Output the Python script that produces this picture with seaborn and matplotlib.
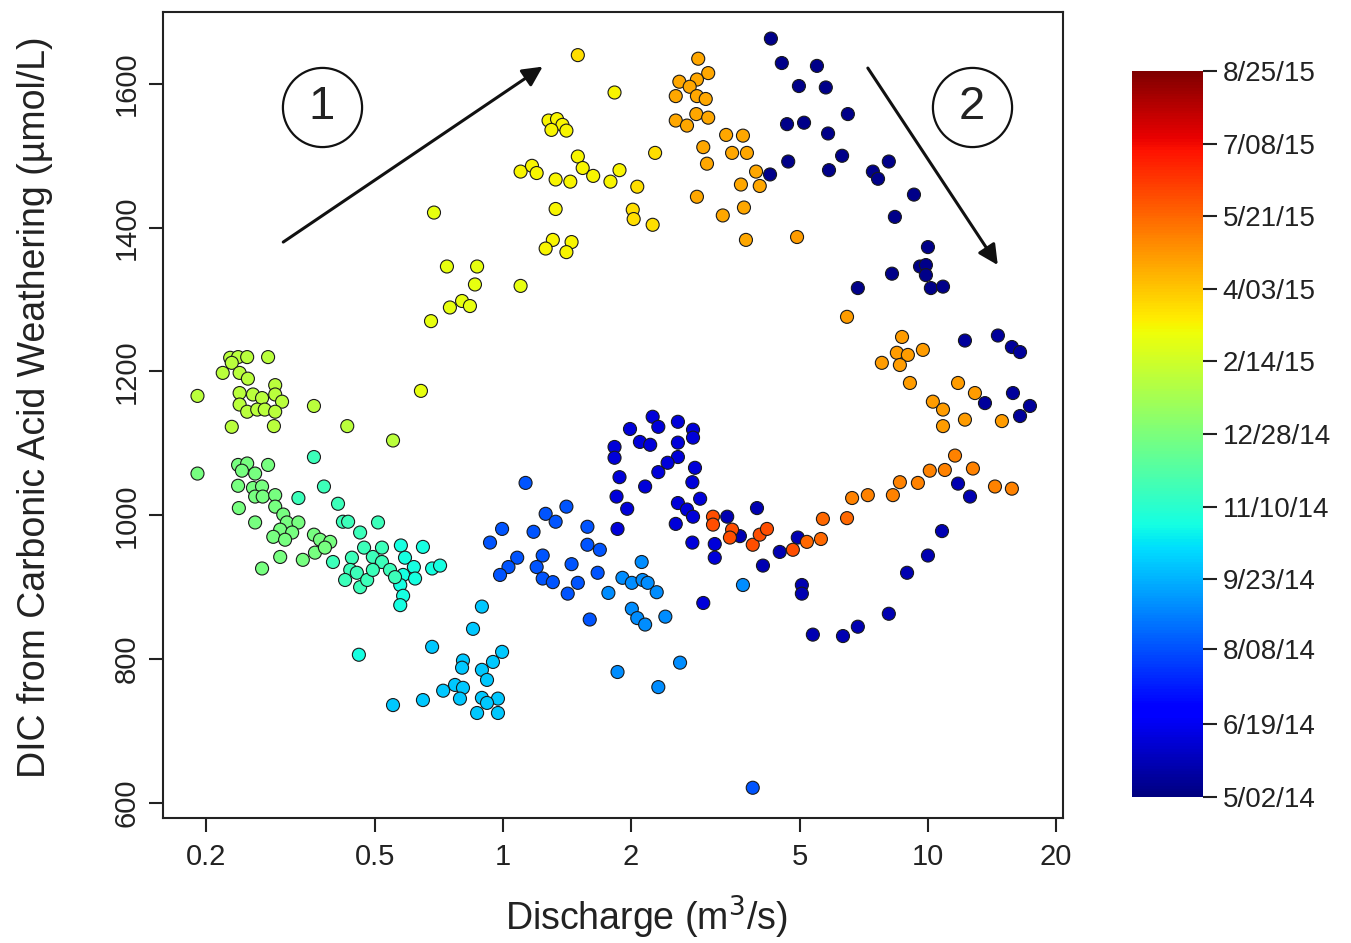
import pandas as pd
import matplotlib
matplotlib.use("Agg")
import matplotlib.pyplot as plt
import matplotlib.colors as mcolors
import seaborn as sns

START = pd.Timestamp("2014-05-02")

# navy, top right (early May 2014)
q_navy_top = [4.27, 4.53, 5.48, 4.97, 5.75, 6.48, 4.66, 5.11, 5.82, 6.28, 4.69, 5.85, 4.25,
              7.42, 7.63, 8.09, 9.27, 8.36, 10.0, 9.58, 9.89, 9.89, 8.23, 6.84, 10.16, 10.85]
dic_navy_top = [1663, 1629, 1625, 1597, 1595, 1558, 1544, 1546, 1531, 1500, 1492, 1480, 1474,
                1478, 1468, 1492, 1446, 1415, 1373, 1346, 1348, 1334, 1336, 1316, 1316, 1318]

q_navy_right = [12.22, 14.61, 15.76, 16.47, 15.85, 13.62, 17.38, 16.47]
dic_navy_right = [1243, 1250, 1234, 1227, 1170, 1156, 1152, 1138]

q_navy_low = [11.77, 12.56, 10.79, 10.0, 8.93, 8.09, 6.84, 6.31, 5.36, 5.05, 5.05, 4.48,
              4.09, 3.96, 4.94, 3.37, 3.61]
dic_navy_low = [1044, 1026, 978, 944, 920, 863, 845, 832, 834, 903, 891, 949,
                930, 1010, 969, 998, 971]

q_blue = [2.25, 2.58, 1.99, 2.32, 2.10, 2.22, 2.80, 2.80, 2.58, 1.83, 1.83, 2.58, 2.44, 2.32,
          2.83, 1.88, 2.16, 2.79, 1.85, 1.96, 2.58, 2.71, 2.91, 2.80, 2.55, 1.86, 2.79, 3.15,
          3.15, 2.96]
dic_blue = [1137, 1130, 1120, 1123, 1102, 1098, 1119, 1108, 1101, 1095, 1080, 1081, 1073, 1060,
            1066, 1053, 1040, 1046, 1026, 1009, 1017, 1008, 1023, 998, 988, 981, 962, 960,
            941, 878]

q_midblue = [1.13, 1.41, 1.26, 1.33, 0.995, 1.18, 0.932, 1.58, 1.58, 1.69, 1.08, 1.03, 0.984,
             1.24, 1.20, 1.24, 1.31, 1.45, 1.50, 1.42, 1.67, 1.60, 3.87]
dic_midblue = [1045, 1012, 1002, 991, 981, 977, 962, 984, 959, 952, 941, 928, 917,
               944, 928, 912, 907, 932, 906, 891, 920, 855, 621]

q_lightblue = [2.12, 1.91, 2.01, 2.13, 2.19, 2.30, 1.77, 2.01, 2.07, 2.16, 2.41, 1.86, 2.61,
               2.32, 3.67]
dic_lightblue = [935, 913, 906, 910, 906, 893, 892, 870, 857, 848, 859, 782, 795, 761, 903]

q_cyanblue = [0.892, 0.850, 0.681, 0.995, 0.947, 0.805, 0.801, 0.892, 0.771, 0.723, 0.805,
              0.917, 0.648, 0.792, 0.892, 0.973, 0.917, 0.869, 0.973, 0.551]
dic_cyanblue = [873, 842, 817, 810, 796, 798, 788, 785, 764, 756, 760,
                771, 743, 745, 746, 745, 739, 725, 725, 736]

q_cyan = [0.575, 0.648, 0.588, 0.617, 0.681, 0.711, 0.582, 0.621, 0.573, 0.582, 0.573, 0.458]
dic_cyan = [958, 956, 941, 928, 926, 930, 917, 912, 903, 888, 875, 806]

q_cyangreen = [0.359, 0.379, 0.330, 0.409, 0.420, 0.432, 0.508, 0.461, 0.398, 0.441, 0.471,
               0.494, 0.519, 0.437, 0.453, 0.461, 0.479, 0.519, 0.542, 0.557, 0.425, 0.494]
dic_cyangreen = [1081, 1040, 1024, 1016, 991, 991, 990, 976, 935, 941, 955,
                 942, 955, 924, 920, 900, 910, 935, 924, 914, 910, 924]

q_green = [0.191, 0.238, 0.250, 0.280, 0.243, 0.261, 0.238, 0.258, 0.271, 0.261, 0.272, 0.291,
           0.239, 0.291, 0.304, 0.261, 0.310, 0.330, 0.299, 0.319, 0.288, 0.307, 0.299, 0.271,
           0.338, 0.359, 0.371, 0.392, 0.361, 0.381]
dic_green = [1058, 1070, 1072, 1070, 1062, 1058, 1041, 1038, 1040, 1026, 1026, 1028,
             1010, 1012, 1001, 990, 990, 990, 980, 976, 970, 966, 942, 926,
             938, 973, 966, 963, 948, 955]

q_ygreen = [0.228, 0.238, 0.250, 0.280, 0.219, 0.230, 0.240, 0.251, 0.191, 0.240, 0.258, 0.271,
            0.291, 0.291, 0.302, 0.240, 0.250, 0.264, 0.275, 0.291, 0.230, 0.289, 0.359, 0.430,
            0.551]
dic_ygreen = [1219, 1220, 1220, 1220, 1198, 1212, 1198, 1190, 1166, 1170, 1168, 1163,
              1181, 1168, 1158, 1154, 1144, 1147, 1147, 1144, 1123, 1124, 1152, 1124,
              1104]

q_yellow_low = [0.641, 0.688, 0.738, 0.869, 0.859, 0.801, 0.750, 0.836, 0.677, 1.10]
dic_yellow_low = [1173, 1421, 1346, 1346, 1321, 1298, 1289, 1291, 1270, 1319]

q_yellow = [1.10, 1.17, 1.20, 1.33, 1.44, 1.50, 1.54, 1.63, 1.79, 1.88, 1.33, 1.31, 1.26,
            1.45, 1.41, 1.28, 1.34, 1.38, 1.41, 1.30, 1.83]
dic_yellow = [1478, 1486, 1476, 1467, 1464, 1499, 1483, 1472, 1464, 1480, 1426, 1383, 1371,
              1380, 1366, 1549, 1551, 1543, 1535, 1536, 1588]

q_yorange = [2.07, 2.28, 2.02, 2.03, 2.25, 1.50]
dic_yorange = [1457, 1504, 1425, 1412, 1404, 1640]

q_orange = [2.88, 3.04, 2.86, 2.60, 2.75, 2.55, 2.86, 3.00, 2.85, 3.04, 2.55, 2.71, 3.35, 3.67,
            2.96, 3.46, 3.75, 3.02, 3.94, 3.63, 4.02, 3.69, 3.29, 3.73, 2.86]
dic_orange = [1635, 1615, 1606, 1603, 1596, 1583, 1583, 1579, 1558, 1553, 1549, 1542, 1529, 1528,
              1512, 1504, 1504, 1489, 1478, 1460, 1458, 1428, 1417, 1383, 1443]

q_orange_right = [8.69, 8.45, 8.97, 9.73, 7.79, 8.59, 9.07, 11.77, 12.90, 10.27, 10.85, 10.85,
                  12.22, 14.93, 4.92, 6.45]
dic_orange_right = [1248, 1226, 1223, 1230, 1212, 1209, 1184, 1184, 1170, 1158, 1147, 1124,
                    1133, 1131, 1387, 1276]

q_orange_low = [11.58, 10.1, 10.96, 12.76, 8.59, 9.47, 14.38, 15.76, 6.63, 7.22, 8.27]
dic_orange_low = [1083, 1062, 1063, 1065, 1046, 1045, 1040, 1037, 1024, 1028, 1028]

q_redorange = [5.66, 6.45, 5.60, 5.19]
dic_redorange = [995, 996, 967, 963]

q_red = [3.12, 3.12, 3.46, 3.42, 3.87, 4.02, 4.18, 4.81]
dic_red = [998, 987, 980, 969, 959, 973, 981, 952]

groups = [
    ("2014-05-07", q_navy_top, dic_navy_top),
    ("2014-05-14", q_navy_right, dic_navy_right),
    ("2014-05-24", q_navy_low, dic_navy_low),
    ("2014-06-09", q_blue, dic_blue),
    ("2014-08-10", q_midblue, dic_midblue),
    ("2014-09-06", q_lightblue, dic_lightblue),
    ("2014-10-04", q_cyanblue, dic_cyanblue),
    ("2014-10-29", q_cyan, dic_cyan),
    ("2014-11-22", q_cyangreen, dic_cyangreen),
    ("2014-12-26", q_green, dic_green),
    ("2015-02-02", q_ygreen, dic_ygreen),
    ("2015-03-01", q_yellow_low, dic_yellow_low),
    ("2015-03-10", q_yellow, dic_yellow),
    ("2015-03-22", q_yorange, dic_yorange),
    ("2015-04-18", q_orange, dic_orange),
    ("2015-04-24", q_orange_right, dic_orange_right),
    ("2015-05-08", q_orange_low, dic_orange_low),
    ("2015-05-20", q_redorange, dic_redorange),
    ("2015-06-02", q_red, dic_red),
]

cbar_labels = ["5/02/14", "6/19/14", "8/08/14", "9/23/14", "11/10/14", "12/28/14",
               "2/14/15", "4/03/15", "5/21/15", "7/08/15", "8/25/15"]
x_ticks = [0.2, 0.5, 1, 2, 5, 10, 20]
y_ticks = [600, 800, 1000, 1200, 1400, 1600]

rows = []
for date, qs, dics in groups:
    day = (pd.Timestamp(date) - START).days
    for q, d in zip(qs, dics):
        rows.append({"Discharge": q, "DIC": d, "day": day})
df = pd.DataFrame(rows).sort_values("day", kind="stable")

cbar_days = [(pd.to_datetime(s, format="%m/%d/%y") - START).days for s in cbar_labels]
norm = mcolors.Normalize(vmin=cbar_days[0], vmax=cbar_days[-1])
jet = matplotlib.colormaps["jet"]

sns.set_style("ticks")
plt.rcParams["font.family"] = ["Liberation Sans", "DejaVu Sans"]

fig = plt.figure(figsize=(13.51, 9.43), dpi=100)
ax = fig.add_axes([0.1207, 0.1326, 0.6662, 0.8547])

sns.scatterplot(data=df, x="Discharge", y="DIC", hue="day", palette=jet, hue_norm=norm,
                s=88, edgecolor="#1a1a1a", linewidth=0.8, legend=False, ax=ax, zorder=3)

ax.set_xscale("log")
ax.set_xlim(0.1585, 20.8)
ax.set_ylim(579, 1700)
ax.set_xticks(x_ticks)
ax.set_xticklabels([f"{t:g}" for t in x_ticks])
ax.xaxis.set_minor_locator(matplotlib.ticker.NullLocator())
ax.set_yticks(y_ticks)
ax.set_yticklabels([str(t) for t in y_ticks], rotation=90, va="center")
ax.tick_params(direction="out", length=10, width=1.5, labelsize=21, colors="#222222")
ax.tick_params(axis="x", pad=8)
ax.tick_params(axis="y", pad=6)
for sp in ax.spines.values():
    sp.set_visible(True)
    sp.set_linewidth(1.5)
    sp.set_color("#222222")

ax.set_xlabel("Discharge (m$^3$/s)", fontsize=27, color="#222222", va="center")
ax.xaxis.set_label_coords(0.537, -0.124)
ax.set_ylabel("DIC from Carbonic Acid Weathering (µmol/L)", fontsize=27, color="#222222",
              va="center")
ax.yaxis.set_label_coords(-0.142, 0.51)

# loop direction arrows and circled labels
arrow_1 = ((0.304, 1380), (1.24, 1624))
arrow_2 = ((7.22, 1622), (14.6, 1348))
for start, end in (arrow_1, arrow_2):
    ax.annotate("", xy=end, xytext=start,
                arrowprops=dict(arrowstyle="-|>", color="#111111", lw=2.2,
                                mutation_scale=30, shrinkA=0, shrinkB=0))

circle_labels = [("1", 0.375, 1568), ("2", 12.7, 1568)]
for txt, cx, cy in circle_labels:
    ax.plot([cx], [cy], marker="o", ms=57, mfc="white", mec="#111111", mew=1.6, zorder=4)
    ax.text(cx, cy, txt, ha="center", va="center", fontsize=34, color="#222222", zorder=5)

cax = fig.add_axes([0.838, 0.1548, 0.0526, 0.770])
sm = plt.cm.ScalarMappable(norm=norm, cmap=jet)
cb = fig.colorbar(sm, cax=cax)
cb.outline.set_visible(False)
cb.set_ticks(cbar_days)
cb.set_ticklabels(cbar_labels)
cax.tick_params(length=10, width=1.5, labelsize=20, pad=4, colors="#222222")

fig.savefig("out.png", dpi=100)
